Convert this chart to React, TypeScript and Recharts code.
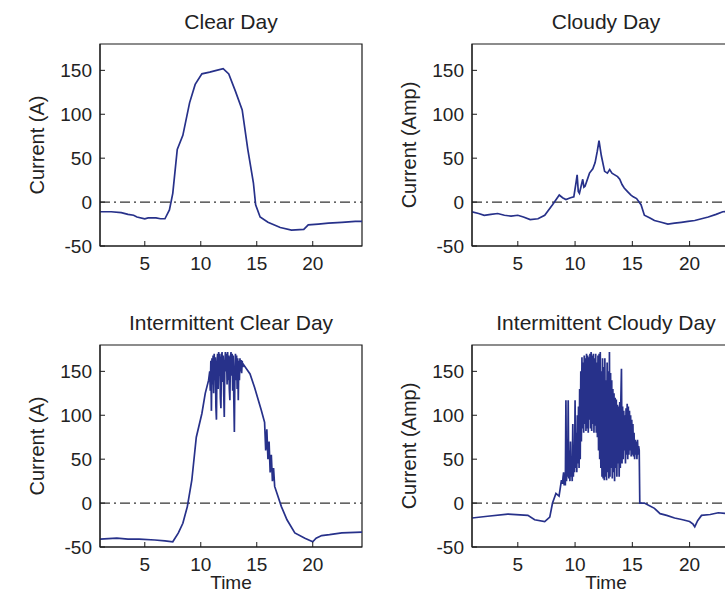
import { LineChart, Line, XAxis, YAxis, ReferenceLine, ReferenceArea } from 'recharts'

const X_TICKS = [5, 10, 15, 20]
const Y_TICKS = [-50, 0, 50, 100, 150]
const X_DOMAIN: [number, number] = [1, 24.4]
const Y_DOMAIN: [number, number] = [-50, 180]
const STEP = 0.05

// clear day
const clearTime = [1, 2.0, 2.9, 3.5, 4.0, 4.3, 5.0, 5.3, 6.0, 6.4, 6.8, 7.2, 7.5, 7.9, 8.4, 9.0, 9.5, 10.1, 10.8, 11.4, 12.0, 12.5, 13.1, 13.7, 14.2, 14.7, 14.9, 15.3, 16.0, 17.1, 18.1, 19.2, 19.6, 20.5, 21.4, 22.6, 23.8, 24.4]
const clearCurrent = [-11, -11, -12, -14, -15, -17, -19, -18, -18, -19, -19, -9, 10, 60, 76, 113, 134, 146, 148, 150, 152, 146, 126, 105, 60, 22, -3, -17, -23, -29, -32, -31, -26, -25, -24, -23, -22, -22]

// cloudy day
const cloudyTime = [1, 1.58, 2.07, 2.65, 3.24, 3.83, 4.41, 5.0, 5.49, 6.08, 6.76, 7.35, 8.03, 8.62, 8.91, 9.2, 9.6, 9.89, 10.08, 10.18, 10.28, 10.38, 10.67, 10.77, 10.87, 11.26, 11.55, 11.75, 11.94, 12.09, 12.29, 12.58, 12.82, 13.02, 13.22, 13.46, 13.71, 13.9, 14.1, 14.29, 14.58, 14.88, 15.08, 15.37, 15.76, 16.05, 16.54, 16.93, 17.52, 18.1, 18.69, 19.28, 19.86, 20.45, 21.04, 21.63, 22.31, 22.9, 24.4]
const cloudyCurrent = [-11, -13, -15, -14, -13, -15, -16, -15, -17, -20, -19, -15, -3, 8, 5, 3, 5, 6, 22, 31, 12, 10, 26, 17, 18, 33, 38, 45, 58, 70, 53, 35, 33, 37, 33, 31, 29, 26, 20, 16, 12, 8, 6, 4, -3, -15, -18, -21, -23, -25, -24, -23, -22, -21, -19, -17, -14, -11, -10]

// intermittent clear day
const intClearTime = [1, 2.5, 3.5, 4.5, 5.9, 6.8, 7.5, 8.0, 8.4, 8.8, 9.2, 9.6, 10.1, 10.4, 10.7]
const intClearCurrent = [-41, -40, -41, -41, -42, -43, -44, -34, -23, -4, 26, 75, 102, 125, 140]
const intClearBurstStart = 10.8
const intClearBurst = [
  150, 128, 162, 105,
  165, 135, 168, 125, 170, 140, 166, 110, 95, 160,
  170, 130, 172, 145, 170, 120, 108, 165, 172, 138,
  168, 125, 98, 160, 172, 150, 170, 135, 172, 140,
  168, 130, 117, 165, 172, 145, 170, 128, 168, 120,
  81, 150, 170, 140, 168, 130, 165, 117, 162, 140,
  165, 150, 163, 148, 162, 155, 158,
]
const intClearTailTime = [14.4, 14.8, 15.4, 15.7, 15.8, 15.9, 16.0, 16.1, 16.2, 16.3, 16.4, 16.5, 16.6, 17.2, 17.7, 18.4, 19.3, 20.0, 20.3, 20.8, 21.5, 22.6, 24.4]
const intClearTailCurrent = [147, 132, 106, 92, 60, 84, 50, 70, 35, 55, 25, 40, 19, -4, -19, -34, -40, -44, -40, -37, -36, -34, -33]

// intermittent cloudy day
const intCloudyTime = [1, 2.36, 4.12, 5.88, 6.47, 7.35, 7.79, 8.03, 8.33, 8.6, 8.81]
const intCloudyCurrent = [-17, -15, -12.5, -14, -19, -21, -16, 0, 11, 8, 26]
const intCloudyBurstStart = 8.9
const intCloudyBurst = [
  22, 30,
  35, 20, 28, 20, 117, 25, 40, 30, 117, 28,
  60, 25, 70, 30, 45, 25, 90, 30, 60, 35,
  117, 40, 80, 35, 100, 45, 110, 40, 130, 50,
  150, 70, 166, 85, 160, 80, 168, 90, 165, 82,
  170, 85, 168, 80, 166, 95, 170, 85, 172, 82,
  168, 90, 170, 80, 165, 88, 170, 80, 160, 75,
  168, 60, 170, 50, 172, 40, 150, 30, 165, 28,
  155, 26, 165, 30, 140, 26, 160, 35, 150, 28,
  172, 30, 148, 40, 140, 28, 130, 35, 125, 25,
  120, 40, 118, 30, 112, 45, 110, 30, 115, 40,
  120, 153, 45, 110, 50, 105, 60, 100, 45, 108,
  55, 113, 50, 110, 55, 105, 60, 100, 53, 95,
  55, 90, 53, 80, 50, 72, 55, 70, 50, 72,
  55, 65, 60,
]
const intCloudyTailTime = [15.65, 16.05, 16.5, 16.93, 17.42, 18.0, 18.69, 19.4, 20.0, 20.3, 20.45, 20.7, 21.04, 21.8, 22.5, 23.3, 24.4]
const intCloudyTailCurrent = [0, 0, -3, -6, -12, -14, -17, -19, -21, -24, -27, -20, -14, -13, -11, -12, -12]

const rows = (t: number[], v: number[]) => t.map((x, i) => ({ t: x, v: v[i] }))
const burst = (start: number, v: number[]) =>
  v.map((y, i) => ({ t: Math.round((start + i * STEP) * 100) / 100, v: y }))

const clearData = rows(clearTime, clearCurrent)
const cloudyData = rows(cloudyTime, cloudyCurrent)
const intClearData = [
  ...rows(intClearTime, intClearCurrent),
  ...burst(intClearBurstStart, intClearBurst),
  ...rows(intClearTailTime, intClearTailCurrent),
]
const intCloudyData = [
  ...rows(intCloudyTime, intCloudyCurrent),
  ...burst(intCloudyBurstStart, intCloudyBurst),
  ...rows(intCloudyTailTime, intCloudyTailCurrent),
]

const FONT = '"Liberation Sans", Arial, Helvetica, sans-serif'
const INK = '#1a1a1a'
const LINE_COLOR = '#27318a'
const PLOT_H = 202

interface PanelProps {
  data: { t: number; v: number }[]
  title: string
  yLabel: string
  left: number
  top: number
  plotW: number
  plotTop: number
  showTime?: boolean
}

const Panel = ({ data, title, yLabel, left, top, plotW, plotTop, showTime }: PanelProps) => {
  const plotLeft = left + 100
  const plotTopAbs = top + plotTop
  const cx = plotLeft + plotW / 2
  const cy = plotTopAbs + PLOT_H / 2
  const tickStyle = { fontSize: 19, fill: '#222', fontFamily: FONT }

  return (
    <>
      <div
        style={{
          position: 'absolute',
          left: cx - 150,
          top: plotTopAbs - 34,
          width: 300,
          height: 24,
          lineHeight: '24px',
          textAlign: 'center',
          fontSize: 21,
          color: '#222',
        }}
      >
        {title}
      </div>
      <div
        style={{
          position: 'absolute',
          left: plotLeft - 63 - 100,
          top: cy - 12,
          width: 200,
          height: 24,
          lineHeight: '24px',
          textAlign: 'center',
          fontSize: 20,
          color: '#222',
          transform: 'rotate(-90deg)',
        }}
      >
        {yLabel}
      </div>
      {showTime && (
        <div
          style={{
            position: 'absolute',
            left: cx - 50,
            top: plotTopAbs + PLOT_H + 24,
            width: 100,
            height: 24,
            lineHeight: '24px',
            textAlign: 'center',
            fontSize: 19,
            color: '#222',
          }}
        >
          Time
        </div>
      )}
      <div style={{ position: 'absolute', left, top }}>
        <LineChart
          width={100 + plotW + 10}
          height={300}
          data={data}
          margin={{ top: plotTop, right: 10, bottom: 300 - plotTop - PLOT_H - 30, left: 40 }}
        >
          <XAxis
            dataKey="t"
            type="number"
            domain={X_DOMAIN}
            ticks={X_TICKS}
            allowDataOverflow
            height={30}
            stroke={INK}
            tickSize={-5}
            tickMargin={16}
            tick={tickStyle}
          />
          <XAxis
            xAxisId="top"
            orientation="top"
            type="number"
            domain={X_DOMAIN}
            ticks={X_TICKS}
            allowDataOverflow
            height={0}
            stroke={INK}
            tickSize={-5}
            tickFormatter={() => ''}
          />
          <YAxis
            type="number"
            domain={Y_DOMAIN}
            ticks={Y_TICKS}
            allowDataOverflow
            width={60}
            stroke={INK}
            tickSize={-5}
            tickMargin={13}
            tick={tickStyle}
          />
          <YAxis
            yAxisId="right"
            orientation="right"
            type="number"
            domain={Y_DOMAIN}
            ticks={Y_TICKS}
            allowDataOverflow
            width={0}
            stroke={INK}
            tickSize={-5}
            tickFormatter={() => ''}
          />
          <ReferenceArea
            x1={X_DOMAIN[0]}
            x2={X_DOMAIN[1]}
            y1={Y_DOMAIN[0]}
            y2={Y_DOMAIN[1]}
            fill="none"
            stroke={INK}
            strokeWidth={1.2}
            ifOverflow="visible"
          />
          <ReferenceLine y={0} stroke="#333" strokeWidth={1.4} strokeDasharray="10 4 2 4" />
          <Line
            type="linear"
            dataKey="v"
            stroke={LINE_COLOR}
            strokeWidth={1.7}
            dot={false}
            isAnimationActive={false}
          />
        </LineChart>
      </div>
    </>
  )
}

export default function App() {
  return (
    <div
      style={{
        position: 'fixed',
        left: 0,
        top: 0,
        width: 725,
        height: 605,
        overflow: 'hidden',
        background: '#fff',
        fontFamily: FONT,
      }}
    >
      <Panel data={clearData} title="Clear Day" yLabel="Current (A)" left={0} top={0} plotW={262} plotTop={44} />
      <Panel data={cloudyData} title="Cloudy Day" yLabel="Current (Amp)" left={372} top={0} plotW={268} plotTop={44} />
      <Panel
        data={intClearData}
        title="Intermittent Clear Day"
        yLabel="Current (A)"
        left={0}
        top={300}
        plotW={262}
        plotTop={45}
        showTime
      />
      <Panel
        data={intCloudyData}
        title="Intermittent Cloudy Day"
        yLabel="Current (Amp)"
        left={372}
        top={300}
        plotW={268}
        plotTop={45}
        showTime
      />
    </div>
  )
}
